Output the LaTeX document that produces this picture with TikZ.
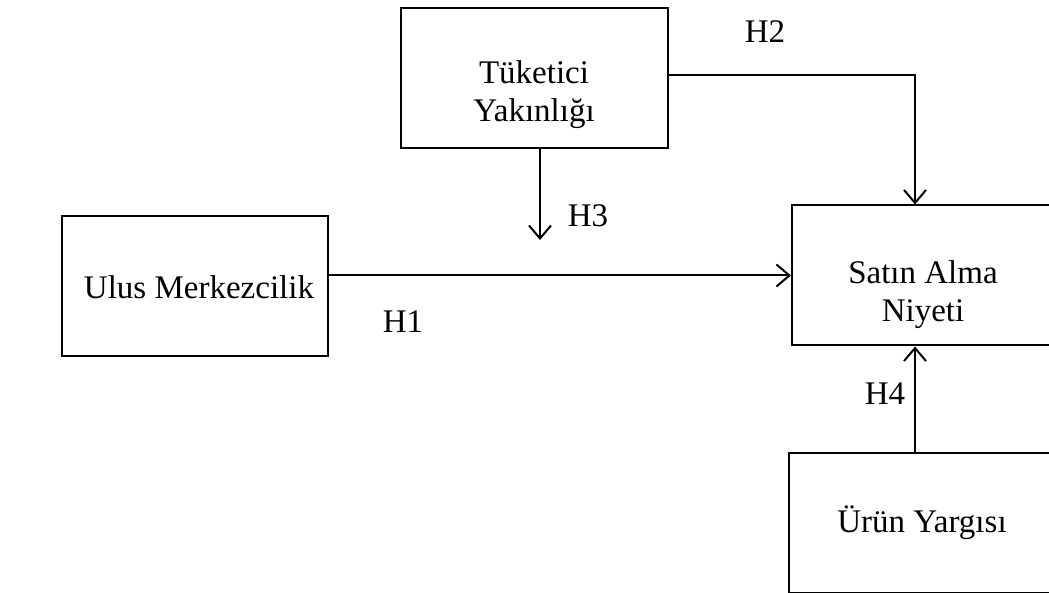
\documentclass[tikz,border=0pt]{standalone}
\usepackage{fontspec}
\setmainfont{Liberation Serif}
\usetikzlibrary{arrows.meta}
\begin{document}
\begin{tikzpicture}[x=1pt,y=-1pt]
\tikzstyle{every node}+=[inner sep=0pt]
\tikzstyle{box}=[draw=black, line width=2pt, minimum width=266pt, minimum height=140pt]
\tikzstyle{txt}=[font=\fontsize{33}{38}\selectfont, align=center]
\tikzstyle{conn}=[black, line width=2pt, -{Straight Barb[length=13pt,width=22pt,line width=2pt]}]
\useasboundingbox (0,0) rectangle (1049,593);
% boxes
\node [box, minimum width=267pt] (tuk) at (534.5,78.5) {};
\node [txt] (tuktext) at (534,95) {Tüketici\\Yakınlığı};
\node [box] (ulus) at (195,286) {};
\node [txt] (ulustext) at (199,287) {Ulus Merkezcilik};
\node [box] (sat) at (925,275.5) {};
\node [txt] (sattext) at (923,295) {Satın Alma\\Niyeti};
\node [box] (urun) at (922,522.5) {};
\node [txt] (uruntext) at (922,523) {Ürün Yargısı};
% connectors
\coordinate (h3end) at (540,240);
\draw [conn] (sat.west -| ulus.east) -- (sat.west);
\draw [conn] (tuk.south -| h3end) -- (h3end);
\draw [conn] ([yshift=3pt]tuk.east) -| ([xshift=-10pt]sat.north);
\draw [conn] ([xshift=-7pt]urun.north) -- ([xshift=-10pt]sat.south);
% labels
\node [txt] (h1) at (403,322) {H1};
\node [txt] (h2) at (765,32) {H2};
\node [txt] (h3) at (588,216) {H3};
\node [txt] (h4) at (885,394) {H4};
\end{tikzpicture}
\end{document}
